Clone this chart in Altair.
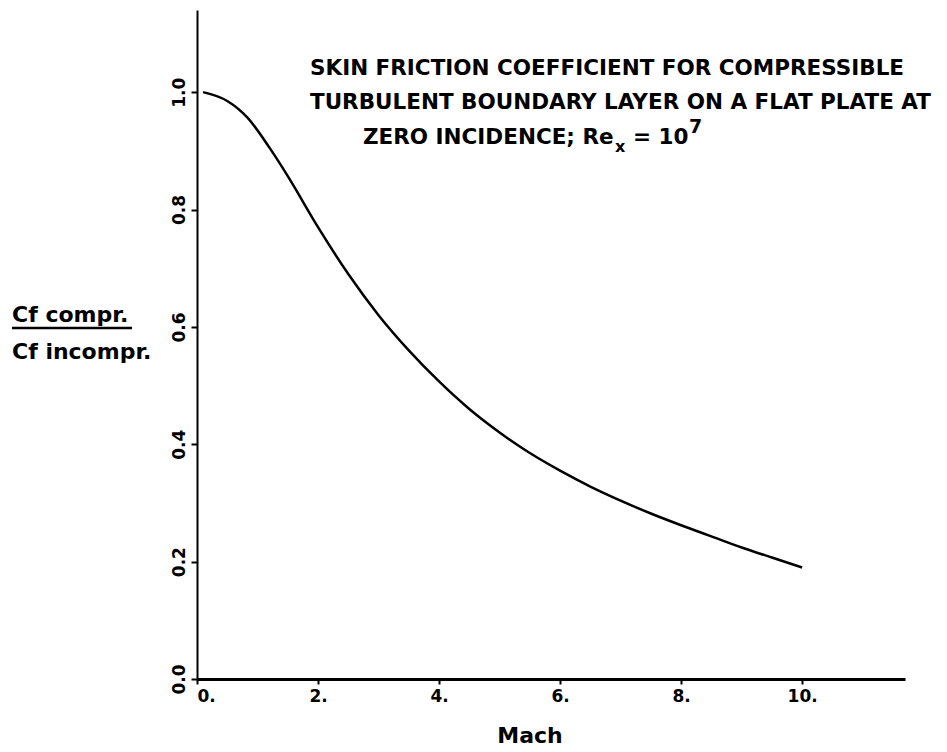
import altair as alt
import pandas as pd

# Skin friction ratio Cf(compressible) / Cf(incompressible) versus Mach number
mach = [0.1, 0.5, 0.83, 1.2, 1.5, 2.0, 2.5, 3.0, 3.5, 4.0, 4.5, 5.0, 5.5, 6.0, 6.5,
        7.0, 7.5, 8.0, 8.5, 9.0, 9.5, 10.0]
ratio = [1.0, 0.985, 0.957, 0.905, 0.857, 0.77, 0.69, 0.62, 0.56, 0.507, 0.46, 0.42,
         0.385, 0.355, 0.328, 0.304, 0.282, 0.262, 0.243, 0.224, 0.207, 0.19]

x_ticks = [0, 2, 4, 6, 8, 10]
y_ticks = [0.0, 0.2, 0.4, 0.6, 0.8, 1.0]

title_lines = [
    "SKIN FRICTION COEFFICIENT FOR COMPRESSIBLE",
    "TURBULENT BOUNDARY LAYER ON A FLAT PLATE AT",
]
title_line3 = ["ZERO INCIDENCE; Re", "x", "= 10", "7"]
ylabel_lines = ["Cf compr.", "Cf incompr."]
xlabel = "Mach"

FONT = "DejaVu Sans"
W, H = 708, 669
TS = 21.5  # title font size

df = pd.DataFrame({"mach": mach, "ratio": ratio})

curve = alt.Chart(df).mark_line(color="black", strokeWidth=2.5, interpolate="monotone").encode(
    x=alt.X(
        "mach:Q",
        scale=alt.Scale(domain=[0, 11.7], nice=False, zero=False),
        axis=alt.Axis(
            values=x_ticks, labelExpr="datum.label + '.'", format="d", title=None,
            grid=False, domainColor="black", domainWidth=3, tickColor="black",
            tickSize=5, tickWidth=2, labelFont=FONT, labelFontSize=17,
            labelFontWeight="bold", labelColor="black", labelPadding=4,
        ),
    ),
    y=alt.Y(
        "ratio:Q",
        scale=alt.Scale(domain=[0, 1.14], nice=False, zero=False),
        axis=alt.Axis(
            values=y_ticks, format=".1f", title=None, grid=False,
            domainColor="black", domainWidth=2, tickColor="black", tickSize=6,
            tickWidth=2, labelFont=FONT, labelFontSize=17, labelFontWeight="bold",
            labelColor="black", labelAngle=270, labelAlign="center",
            labelBaseline="bottom", labelPadding=3,
        ),
    ),
)


def text_at(text, x, y, size, align="left", weight="bold"):
    return alt.Chart(pd.DataFrame({"t": [text]})).mark_text(
        font=FONT, fontSize=size, fontWeight=weight, color="black",
        align=align, baseline="middle",
    ).encode(text="t:N", x=alt.value(x), y=alt.value(y))


layers = [curve]
layers.append(text_at(title_lines[0], 113, 59, TS))
layers.append(text_at(title_lines[1], 113, 93, TS))
layers.append(text_at(title_line3[0], 166, 128, TS))
layers.append(text_at(title_line3[1], 418, 137, 16))
layers.append(text_at(title_line3[2], 436, 128, TS))
layers.append(text_at(title_line3[3], 492, 117, 19))
layers.append(text_at(ylabel_lines[0], -185, 305, 22))
layers.append(text_at(ylabel_lines[1], -185, 342, 22))
layers.append(
    alt.Chart(pd.DataFrame({"t": [0]})).mark_rule(color="black", strokeWidth=2.5).encode(
        x=alt.value(-185), x2=alt.value(-65), y=alt.value(318)
    )
)
layers.append(text_at(xlabel, 333, 726, 22, align="center"))

chart = alt.layer(*layers).properties(
    width=W,
    height=H,
    padding={"left": 197, "top": 10, "right": 42, "bottom": 73},
    autosize=alt.AutoSizeParams(type="none"),
    background="white",
).configure_view(stroke=None)

chart.save("out.html", embed_options={"renderer": "svg", "actions": False})
